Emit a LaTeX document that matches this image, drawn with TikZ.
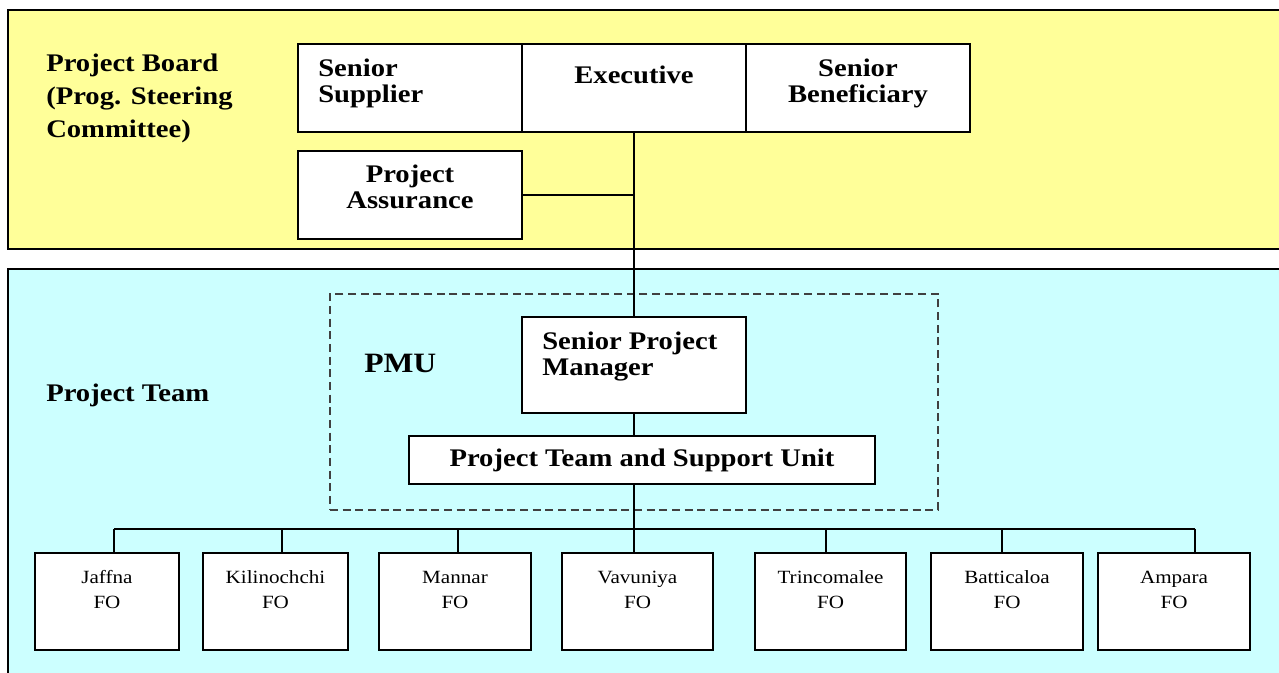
\documentclass[tikz,border=0pt]{standalone}
\usepackage{fontspec}
\setmainfont[FakeStretch=1.13]{Liberation Serif}
\usetikzlibrary{fit}
\definecolor{boardy}{HTML}{FFFF99}
\definecolor{teamc}{HTML}{CCFFFF}
\begin{document}
\begin{tikzpicture}[x=0.75pt,y=-0.75pt,
 panel/.style={draw=black,line width=1.1pt,inner sep=0pt},
 box/.style={draw=black,fill=white,line width=1.1pt,inner sep=0pt},
 dashbox/.style={draw=black!75,dash pattern=on 6pt off 3.5pt,line width=0.9pt,inner sep=0pt},
 link/.style={draw=black,line width=1.3pt},
 big/.style={font=\fontsize{19}{19.5}\selectfont\bfseries,inner sep=0pt},
 small/.style={font=\fontsize{14}{18.75}\selectfont,inner sep=0pt,align=center},
]
\useasboundingbox (0,0) rectangle (1279,673);
\clip (0,0) rectangle (1279,673);
% panels
\node[panel,fill=boardy,fit={(8,10) (1300,249)}] (board) {};
\node[panel,fill=teamc,fit={(8,269) (1300,700)}] (team) {};
\node[dashbox,fit={(330,294) (938,510)}] (pmu) {};
% board boxes
\node[box,fit={(298,44) (522,132)}] (ss) {};
\node[box,fit={(522,44) (746,132)}] (exec) {};
\node[box,fit={(746,44) (970,132)}] (sb) {};
\node[box,fit={(298,151) (522,239)}] (pa) {};
% PMU boxes
\node[box,fit={(522,317) (746,413)}] (spm) {};
\node[box,fit={(409,436) (875,484)}] (ptsu) {};
% FO boxes
\node[box,fit={(35,553) (179,650)}] (jaf) {};
\node[box,fit={(203,553) (348,650)}] (kil) {};
\node[box,fit={(379,553) (531,650)}] (man) {};
\node[box,fit={(562,553) (713,650)}] (vav) {};
\node[box,fit={(755,553) (906,650)}] (tri) {};
\node[box,fit={(931,553) (1083,650)}] (bat) {};
\node[box,fit={(1098,553) (1250,650)}] (amp) {};
% texts (base anchor = baseline of last line)
\node[big,font=\fontsize{19}{25}\selectfont\bfseries,align=left,anchor=base west] (tboard) at (46,138) {Project Board\\(Prog. Steering\\Committee)};
\node[big,align=left,anchor=base west] (tss) at (318,103) {Senior\\Supplier};
\node[big,anchor=base] (texec) at (634,84) {Executive};
\node[big,align=center,anchor=base] (tsb) at (858,103) {Senior\\Beneficiary};
\node[big,align=center,anchor=base] (tpa) at (410,209) {Project\\Assurance};
\node[big,anchor=base west] (tteam) at (46,402) {Project Team};
\node[big,font=\fontsize{21}{22}\selectfont\bfseries,anchor=base west] (tpmu) at (364,373) {PMU};
\node[big,align=left,anchor=base west] (tspm) at (542,376) {Senior Project\\Manager};
\node[big,anchor=base] (tptsu) at (642,467) {Project Team and Support Unit};
\node[small,anchor=base] (tjaf) at (107,609) {Jaffna\\FO};
\node[small,anchor=base] (tkil) at (275.5,609) {Kilinochchi\\FO};
\node[small,anchor=base] (tman) at (455,609) {Mannar\\FO};
\node[small,anchor=base] (tvav) at (637.5,609) {Vavuniya\\FO};
\node[small,anchor=base] (ttri) at (830.5,609) {Trincomalee\\FO};
\node[small,anchor=base] (tbat) at (1007,609) {Batticaloa\\FO};
\node[small,anchor=base] (tamp) at (1174,609) {Ampara\\FO};
% connectors
\coordinate (busL) at (114,529);
\coordinate (busR) at (1195,529);
\coordinate (busM) at (634,529);
\draw[link] (exec.south) -- (spm.north);
\draw[link] (pa.east) -- (pa.east -| exec.south);
\draw[link] (spm.south) -- (spm.south |- ptsu.north);
\draw[link] (ptsu.south -| spm.south) -- (busM);
\draw[link] (busL) -- (busR);
\draw[link] (busL) -- (busL |- jaf.north);
\draw[link] (282,529) -- (282,529 |- kil.north);
\draw[link] (458,529) -- (458,529 |- man.north);
\draw[link] (busM) -- (busM |- vav.north);
\draw[link] (826,529) -- (826,529 |- tri.north);
\draw[link] (1002,529) -- (1002,529 |- bat.north);
\draw[link] (busR) -- (busR |- amp.north);
\end{tikzpicture}
\end{document}
